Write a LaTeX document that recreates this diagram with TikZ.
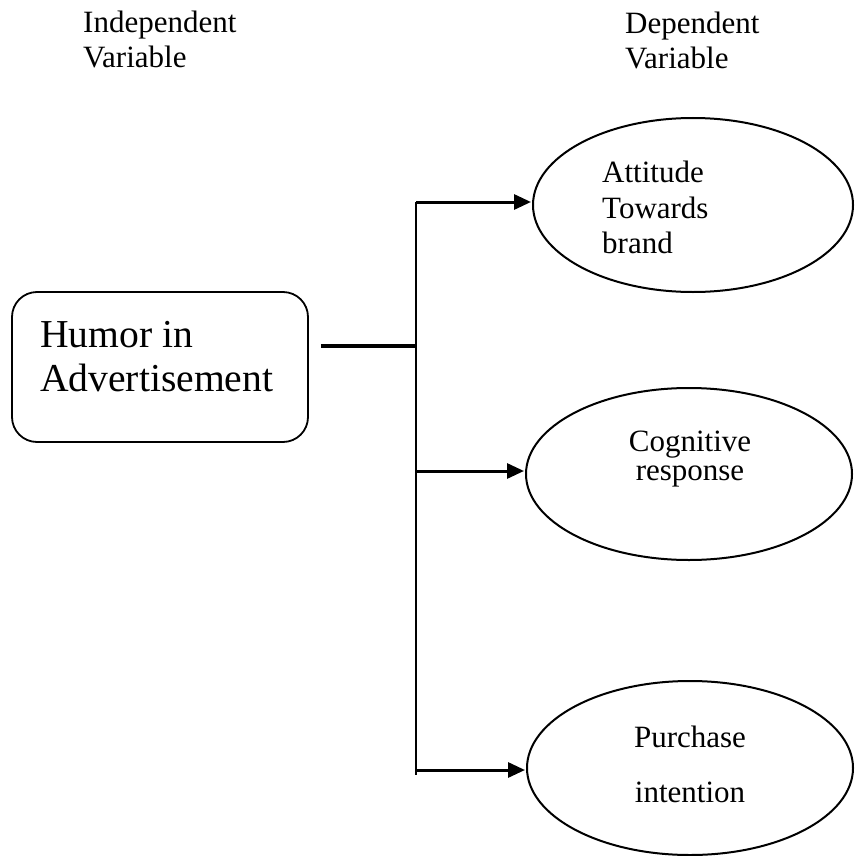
\documentclass[tikz,border=0pt]{standalone}
\usepackage{fontspec}
\setmainfont{Liberation Serif}
\usetikzlibrary{arrows.meta, positioning, shapes.geometric}
\tikzset{
  >={Triangle[length=17pt,width=15pt]},
  % Testi
  label text/.style={inner sep=0,font=\fontsize{31}{34.5}\selectfont,align=left},
  % Nodi
  ind box/.style={draw,line width=1.8pt,rounded corners=25pt,minimum width=296pt,minimum height=150pt,inner sep=0},
  dep var/.style={draw,ellipse,line width=2pt,inner sep=0},
  % Connessioni
  connect/.style={line width=3pt},
  connect arrow/.style={->,line width=3pt,shorten >=1pt}
}
\begin{document}
\begin{tikzpicture}[x=1pt,y=-1pt]
  \useasboundingbox (0,0) rectangle (854,856);
  % intestazioni
  \node[label text,anchor=north west] (indhead) at (83,11) {Independent\\Variable};
  \node[label text,anchor=north west] (dephead) at (625,12) {Dependent\\Variable};
  % variabile indipendente
  \node[ind box] (humor) at (160,367) {};
  \node[inner sep=0,anchor=north west,align=left,font=\fontsize{39.6}{44}\selectfont] (humorlbl) at (40,321) {Humor in\\Advertisement};
  % variabili dipendenti
  \node[dep var,minimum width=320pt,minimum height=174pt] (att) at (693,205) {};
  \node[dep var,minimum width=326pt,minimum height=172pt] (cog) at (689,474) {};
  \node[dep var,minimum width=326pt,minimum height=174pt] (pur) at (690,768) {};
  \node[label text,anchor=north west,font=\fontsize{31}{35.5}\selectfont] (attlbl) at (602,161) {Attitude\\Towards\\brand};
  \node[label text,anchor=north,align=center,font=\fontsize{31}{28.5}\selectfont] (coglbl) at (690,431) {Cognitive\\response};
  \node[label text,anchor=north,align=center,font=\fontsize{31}{55}\selectfont] (purlbl) at (690,726) {Purchase\\intention};
  % collegamenti
  \coordinate (j1) at (416,202);
  \coordinate (j0) at (416,346);
  \coordinate (j2) at (416,471);
  \coordinate (j3) at (416,770);
  \coordinate (jend) at (416,775);
  \draw[connect,line width=4pt] ([xshift=12pt]humor.east |- j0) -- (j0);
  \draw[connect,line width=2.2pt] (j1) -- (jend);
  \draw[connect arrow] (j1) -- (j1 -| att.west);
  \draw[connect arrow] (j2) -- (j2 -| cog.west);
  \draw[connect arrow] (j3) -- (j3 -| pur.west);
\end{tikzpicture}
\end{document}
